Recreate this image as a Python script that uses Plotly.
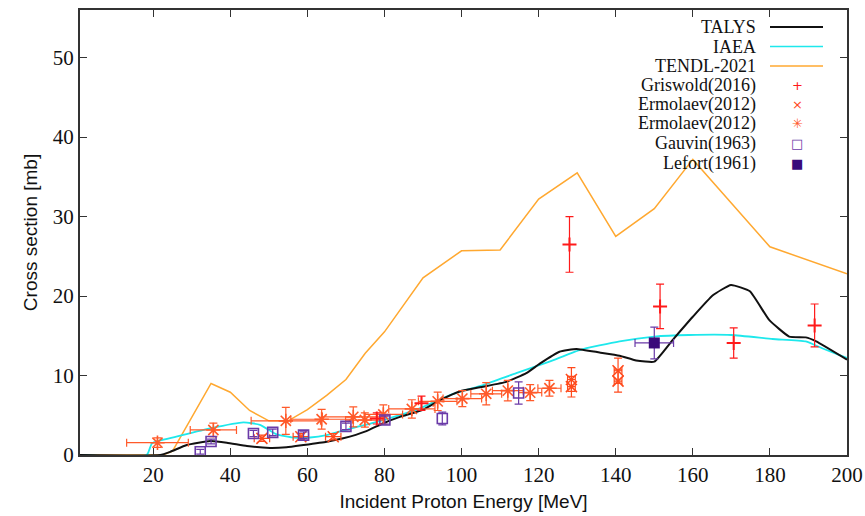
import plotly.graph_objects as go

# ---- model curves ----
talys_E = [1, 21.8, 24.4, 28.7, 34.8, 39.1, 44.3, 50.3, 54.6, 59, 65, 69.3, 75.3, 79.7, 84, 90, 94.4,
           99.5, 105.6, 111.6, 116.8, 120.3, 125.4, 129.8, 135.8, 141, 145.3, 150, 154.8, 160, 165.2,
           169.9, 174.8, 179.8, 185, 189.3, 192, 200]
talys_s = [0, 0, 0.4, 1.25, 1.75, 1.55, 1.13, 0.88, 0.97, 1.26, 1.68, 2.1, 3.0, 4.0, 4.8, 5.7, 6.9,
           8.0, 8.6, 9.2, 10.3, 11.5, 13.0, 13.35, 12.9, 12.5, 11.9, 11.75, 14.5, 17.4, 20.1,
           21.4, 20.6, 17.0, 14.9, 14.8, 14.3, 12.0]

iaea_E = [1, 18.3, 19.7, 26, 34.8, 43.4, 47.7, 52, 56.3, 60.7, 65, 71, 79.7, 88.3, 97, 105.6,
          114.2, 122.8, 130.6, 141, 150, 159, 170, 180.7, 189.3, 193.7, 200]
iaea_s = [0, 0, 1.47, 2.3, 3.35, 4.1, 3.8, 2.6, 2.2, 2.2, 2.5, 3.3, 4.4, 5.7, 7.55, 8.8,
          10.3, 11.75, 13.2, 14.3, 14.9, 15.1, 15.1, 14.6, 14.3, 13.4, 12.2]

tendl_E = [1, 20, 22.5, 25, 30, 35, 40, 45, 50, 55, 60, 65, 70, 75, 80, 90, 100, 110, 120, 130,
           140, 150, 160, 180, 200]
tendl_s = [0, 0, 0, 0.5, 4.7, 9.0, 7.9, 5.6, 4.3, 4.3, 5.7, 7.5, 9.5, 12.8, 15.5, 22.3, 25.7,
           25.8, 32.2, 35.5, 27.5, 31.0, 37.2, 26.2, 22.8]

# ---- experimental data ----
gris_E = [78.0, 89.6, 128.0, 151.5, 170.6, 191.6]
gris_s = [4.6, 6.5, 26.5, 18.7, 14.1, 16.3]
gris_err = [0.7, 0.9, 3.5, 2.8, 1.9, 2.7]

erm1_E = [48.2, 58.3, 66.7, 128.5, 128.5, 140.6, 140.6]
erm1_s = [2.1, 2.3, 2.3, 9.5, 8.6, 10.6, 9.3]
erm1_err = [0.4, 0.4, 0.4, 1.5, 1.3, 1.6, 1.4]
erm1_xerr = [2, 2, 2, 1, 1, 1, 1]

erm2_E = [21.1, 35.6, 54.4, 63.7, 71.9, 74.9, 79.7, 87.1, 93.8, 100.2, 106.4, 112.0, 117.8, 122.8]
erm2_s = [1.55, 3.15, 4.3, 4.5, 4.8, 4.4, 5.1, 5.8, 6.75, 7.1, 7.7, 8.1, 7.85, 8.4]
erm2_err = [0.6, 0.85, 1.7, 1.25, 1.25, 0.9, 1.2, 1.15, 1.15, 1.0, 1.4, 1.3, 1.0, 1.0]
erm2_xerr = [8, 6, 9, 8, 8, 5, 5, 6, 5, 5, 4, 4, 3, 3]

gauv_E = [32.2, 35.0, 46.0, 51.0, 59.0, 70.0, 80.1, 95.0, 114.8]
gauv_s = [0.4, 1.7, 2.7, 2.85, 2.5, 3.6, 4.4, 4.6, 7.8]
gauv_err = [0.3, 0.3, 0.4, 0.4, 0.4, 0.4, 0.5, 0.8, 1.4]

lef_E = [150.0]
lef_s = [14.1]
lef_err = [2.0]
lef_xerr = [5.0]

legend_names = ["TALYS", "IAEA", "TENDL-2021", "Griswold(2016)", "Ermolaev(2012)",
                "Ermolaev(2012)", "Gauvin(1963)", "Lefort(1961)"]

C_RED = "#ff1a1a"
C_ERM = "#ff4a1c"
C_ERM2 = "#ff5a2a"
C_GAU = "#6a3aa8"
C_LEF = "#3a0a7a"

fig = go.Figure()

fig.add_trace(go.Scatter(x=tendl_E, y=tendl_s, mode="lines",
                         line=dict(color="#ffa830", width=1.5)))
fig.add_trace(go.Scatter(x=iaea_E, y=iaea_s, mode="lines",
                         line=dict(color="#1ee8ec", width=1.8, shape="spline", smoothing=0.5)))
fig.add_trace(go.Scatter(x=talys_E, y=talys_s, mode="lines",
                         line=dict(color="#111111", width=2, shape="spline", smoothing=0.4)))

fig.add_trace(go.Scatter(x=erm2_E, y=erm2_s, mode="markers",
                         marker=dict(symbol="asterisk-open", size=12, color=C_ERM2,
                                     line=dict(color=C_ERM2, width=1.6)),
                         error_y=dict(type="data", array=erm2_err, color=C_ERM2, thickness=1.2, width=4),
                         error_x=dict(type="data", array=erm2_xerr, color=C_ERM2, thickness=1.2, width=4)))
fig.add_trace(go.Scatter(x=erm1_E, y=erm1_s, mode="markers",
                         marker=dict(symbol="x-thin-open", size=11, color=C_ERM,
                                     line=dict(color=C_ERM, width=1.6)),
                         error_y=dict(type="data", array=erm1_err, color=C_ERM, thickness=1.2, width=4),
                         error_x=dict(type="data", array=erm1_xerr, color=C_ERM, thickness=1.2, width=4)))
fig.add_trace(go.Scatter(x=gauv_E, y=gauv_s, mode="markers",
                         marker=dict(symbol="square-open", size=10, color=C_GAU,
                                     line=dict(color=C_GAU, width=1.6)),
                         error_y=dict(type="data", array=gauv_err, color=C_GAU, thickness=1.2, width=4)))
fig.add_trace(go.Scatter(x=gris_E, y=gris_s, mode="markers",
                         marker=dict(symbol="cross-thin-open", size=10, color=C_RED,
                                     line=dict(color=C_RED, width=2)),
                         error_y=dict(type="data", array=gris_err, color=C_RED, thickness=1.2, width=4)))
fig.add_trace(go.Scatter(x=lef_E, y=lef_s, mode="markers",
                         marker=dict(symbol="square", size=11, color=C_LEF),
                         error_y=dict(type="data", array=lef_err, color=C_GAU, thickness=1.2, width=4),
                         error_x=dict(type="data", array=lef_xerr, color=C_GAU, thickness=1.2, width=4)))

# ---- gnuplot-style legend (text right, sample left) ----
L, R, T, B = 80, 847, 10, 455
W, H = R - L, B - T
def px(x):
    return (x - L) / W
def py(y):
    return (B - y) / H

rows_y = [27, 46.5, 66, 85.5, 105, 124, 143.5, 163]
anns = []
shapes = []
sym = [None, None, None, ("+", C_RED), ("×", C_ERM), ("✳", C_ERM2), ("□", C_GAU), ("■", C_LEF)]
line_cols = ["#111111", "#1ee8ec", "#ffa830"]
for i, (name, yy) in enumerate(zip(legend_names, rows_y)):
    anns.append(dict(x=px(758), y=py(yy), xref="paper", yref="paper", text=name,
                     showarrow=False, xanchor="right", yanchor="middle",
                     font=dict(family="Liberation Serif", size=18, color="#111")))
    if i < 3:
        shapes.append(dict(type="line", xref="paper", yref="paper",
                           x0=px(770), x1=px(823), y0=py(yy), y1=py(yy),
                           line=dict(color=line_cols[i], width=2 if i == 0 else 1.6)))
    else:
        s, c = sym[i]
        anns.append(dict(x=px(797), y=py(yy), xref="paper", yref="paper", text=s,
                         showarrow=False, xanchor="center", yanchor="middle",
                         font=dict(family="DejaVu Sans", size=13, color=c)))

fig.update_layout(
    width=865, height=516, autosize=False,
    margin=dict(l=L, r=865 - R, t=T, b=516 - B, pad=0),
    paper_bgcolor="white", plot_bgcolor="white",
    showlegend=False,
    annotations=anns, shapes=shapes,
    font=dict(family="Liberation Serif", size=19, color="#111"),
)
fig.update_xaxes(range=[1, 200], tickvals=[20, 40, 60, 80, 100, 120, 140, 160, 180, 200],
                 automargin=False,
                 ticks="inside", ticklen=7, tickcolor="#333", mirror="ticks",
                 showline=True, linecolor="#333", linewidth=2, showgrid=False, zeroline=False,
                 tickfont=dict(family="Liberation Serif", size=21, color="#111"),
                 title=dict(text="Incident Proton Energy [MeV]", standoff=8,
                            font=dict(family="Liberation Sans", size=19, color="#111")))
fig.update_yaxes(range=[0, 56], tickvals=[0, 10, 20, 30, 40, 50],
                 automargin=False,
                 ticks="inside", ticklen=7, tickcolor="#333", mirror="ticks",
                 showline=True, linecolor="#333", linewidth=2, showgrid=False, zeroline=False,
                 tickfont=dict(family="Liberation Serif", size=21, color="#111"),
                 title=dict(text="Cross section [mb]", standoff=10,
                            font=dict(family="Liberation Sans", size=19, color="#111")))

fig.write_html("out.html")
